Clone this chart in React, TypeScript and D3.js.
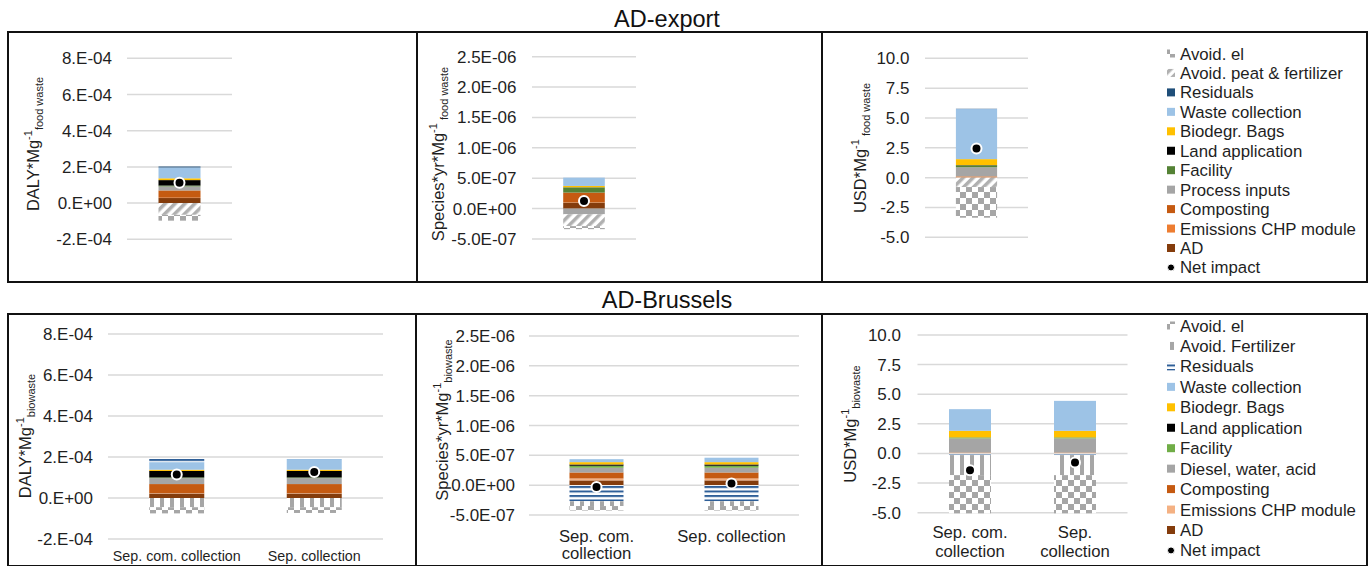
import React from "react";
import * as d3 from "d3";

const FONT = "'Liberation Sans', Arial, Helvetica, sans-serif";

// ---------- series ----------
const topSeries = ["AD", "Emissions CHP module", "Composting", "Process inputs", "Facility", "Land application", "Biodegr. Bags", "Waste collection", "Residuals", "Avoid. peat & fertilizer", "Avoid. el"];
const bottomSeries = ["AD", "Emissions CHP module", "Composting", "Diesel, water, acid", "Facility", "Land application", "Biodegr. Bags", "Waste collection", "Residuals", "Avoid. Fertilizer", "Avoid. el"];
const topFills = ["#843c0c", "#ed7d31", "#c55a11", "#a5a5a5", "#548235", "#000000", "#ffc000", "#9dc3e6", "#1f4e79", "url(#diag)", "url(#checker)"];
const bottomFills = ["#843c0c", "#f4b183", "#c55a11", "#a5a5a5", "#70ad47", "#000000", "#ffc000", "#9dc3e6", "url(#hstripe)", "url(#vstripe)", "url(#checker)"];

// ---------- categories ----------
const topCategories = [""];
const bottomCategories = ["Sep. com. collection", "Sep. collection"];

// ---------- tick values ----------
const dalyTicks = [-2e-4, 0, 2e-4, 4e-4, 6e-4, 8e-4];
const speciesTicks = [-5e-7, 0, 5e-7, 1e-6, 1.5e-6, 2e-6, 2.5e-6];
const usdTicks = [-5, -2.5, 0, 2.5, 5, 7.5, 10];

// ---------- values (one entry per series, per category) ----------
// AD-export
const exportDaly = [[0.28e-4], [0.02e-4], [0.40e-4], [0.22e-4], [0.05e-4], [0.30e-4], [0.10e-4], [0.60e-4], [0.05e-4], [-0.65e-4], [-0.32e-4]];
const exportDalyNet = [1.12e-4];
const exportSpecies = [[0.99e-7], [0.05e-7], [1.6e-7], [-0.93e-7], [0.85e-7], [0.02e-7], [0.22e-7], [1.37e-7], [0], [-1.95e-7], [-0.5e-7]];
const exportSpeciesNet = [1.25e-7];
const exportUsd = [[0.02], [0.05], [0.04], [0.76], [0.16], [0.02], [0.5], [4.2], [0.02], [-0.79], [-2.57]];
const exportUsdNet = [2.45];

// AD-Brussels
const brusselsDaly = [[0.22e-4, 0.22e-4], [0.02e-4, 0.02e-4], [0.44e-4, 0.44e-4], [0.29e-4, 0.29e-4], [0.03e-4, 0.03e-4], [0.32e-4, 0.32e-4], [0.06e-4, 0.06e-4], [0.37e-4, 0.52e-4], [0.18e-4, 0.05e-4], [-0.45e-4, -0.45e-4], [-0.3e-4, -0.28e-4]];
const brusselsDalyNet = [1.15e-4, 1.27e-4];
const brusselsSpecies = [[0.8e-7, 0.8e-7], [0.32e-7, 0.32e-7], [1.01e-7, 1.01e-7], [0.79e-7, 0.79e-7], [0.33e-7, 0.33e-7], [0.22e-7, 0.22e-7], [0.39e-7, 0.39e-7], [0.5e-7, 0.74e-7], [-2.7e-7, -2.7e-7], [-0.8e-7, -0.8e-7], [-0.75e-7, -0.75e-7]];
const brusselsSpeciesNet = [-0.3e-7, 0.3e-7];
const brusselsUsd = [[0.02, 0.02], [0.03, 0.03], [0.03, 0.03], [1.19, 1.19], [0.08, 0.08], [0.01, 0.01], [0.55, 0.55], [1.83, 2.53], [-0.14, -0.14], [-1.69, -1.69], [-3.22, -3.22]];
const brusselsUsdNet = [-1.41, -0.76];

function fmtE(dec: number) {
  return (v: number) => {
    if (Math.abs(v) < 1e-20) return (dec ? "0." + "0".repeat(dec) : "0.") + "E+00";
    const s = v.toExponential(dec);
    const [m, e] = s.split("e");
    const mant = dec === 0 ? m + "." : m;
    const ei = parseInt(e, 10);
    return mant + "E" + (ei < 0 ? "-" : "+") + String(Math.abs(ei)).padStart(2, "0");
  };
}
const fmtF = (v: number) => v.toFixed(1);

let _ctx: CanvasRenderingContext2D | null = null;
function measure(t: string, size: number) {
  if (!_ctx) _ctx = document.createElement("canvas").getContext("2d");
  if (!_ctx) return t.length * size * 0.5;
  _ctx.font = `${size}px ${FONT}`;
  return _ctx.measureText(t).width;
}
function wrap(t: string, size: number, maxW: number) {
  const words = t.split(" ");
  const lines: string[] = [];
  let cur = "";
  for (const w of words) {
    const cand = cur ? cur + " " + w : w;
    if (cur && measure(cand, size) > maxW) {
      lines.push(cur);
      cur = w;
    } else cur = cand;
  }
  if (cur) lines.push(cur);
  return lines;
}

type Cfg = {
  box: number[];
  gridX: number[];
  yPix: number[];
  domain: number[];
  ticks: number[];
  fmt: (v: number) => string;
  tickRight: number;
  categories: string[];
  series: string[];
  fills: string[];
  values: number[][];
  net: number[];
  label: { x: number; y: number; main: string; sub: string; space: boolean };
  catFont?: number;
  catY?: number;
  catWrap?: number;
  catLH?: number;
};

const TXT = "#1f1f1f";

function Panel({ c }: { c: Cfg }) {
  const y = d3.scaleLinear().domain(c.domain).range(c.yPix);
  const x = d3.scaleBand<string>().domain(c.categories).range(c.gridX as [number, number]).paddingInner(0.6).paddingOuter(0.3);
  const rows = c.categories.map((cat, i) => {
    const r: any = { cat };
    c.series.forEach((s, j) => (r[s] = c.values[j][i]));
    return r;
  });
  const stacked = d3.stack<any>().keys(c.series).offset(d3.stackOffsetDiverging)(rows);
  const bw = x.bandwidth();
  return (
    <g>
      <rect x={c.box[0]} y={c.box[1]} width={c.box[2]} height={c.box[3]} fill="none" stroke="#111" strokeWidth={2} />
      {c.ticks.map((t) => (
        <g key={t}>
          <line x1={c.gridX[0]} x2={c.gridX[1]} y1={y(t)} y2={y(t)} stroke="#d9d9d9" strokeWidth={1.5} />
          <text x={c.tickRight} y={y(t) + 6} textAnchor="end" fontSize={17} fill={TXT}>{c.fmt(t)}</text>
        </g>
      ))}
      {stacked.map((layer, j) =>
        layer.map((d, i) => {
          const a = d[0], b = d[1];
          if (a === b || isNaN(a) || isNaN(b)) return null;
          const y0 = y(Math.max(a, b)), y1 = y(Math.min(a, b));
          return <rect key={`${j}-${i}`} x={x(c.categories[i])} y={y0} width={bw} height={y1 - y0} fill={c.fills[j]} />;
        })
      )}
      {c.net.map((v, i) => (
        <circle key={i} cx={(x(c.categories[i]) as number) + bw / 2} cy={y(v)} r={5} fill="#000" stroke="#fff" strokeWidth={2} />
      ))}
      <text transform={`translate(${c.label.x},${c.label.y}) rotate(-90)`} textAnchor="middle" fontSize={16.5} fill={TXT}>
        <tspan>{c.label.main}</tspan>
        <tspan fontSize={11} dy={-7}>-1</tspan>
        <tspan fontSize={11} dy={11}>{(c.label.space ? " " : "") + c.label.sub}</tspan>
      </text>
      {c.catY !== undefined &&
        c.categories.map((cat) => {
          const fs = c.catFont || 16.5;
          const lines = wrap(cat, fs, c.catWrap || 10000);
          const cx = (x(cat) as number) + bw / 2;
          return (
            <text key={cat} x={cx} y={c.catY} textAnchor="middle" fontSize={fs} fill={TXT}>
              {lines.map((l, k) => (
                <tspan key={k} x={cx} dy={k === 0 ? 0 : c.catLH || 18}>{l}</tspan>
              ))}
            </text>
          );
        })}
    </g>
  );
}

function Legend({ series, fills, x, y0, step }: { series: string[]; fills: string[]; x: number; y0: number; step: number }) {
  const items = series.map((s, i) => ({ s, f: fills[i] })).reverse();
  return (
    <g>
      {items.map((it, k) => (
        <g key={it.s}>
          <rect x={x} y={y0 + k * step - 4} width={8} height={8} fill={it.f} />
          <text x={x + 13} y={y0 + k * step + 6} fontSize={16.8} fill={TXT}>{it.s}</text>
        </g>
      ))}
      <circle cx={x + 4} cy={y0 + items.length * step} r={3.5} fill="#000" stroke="#fff" strokeWidth={1} />
      <text x={x + 13} y={y0 + items.length * step + 6} fontSize={16.8} fill={TXT}>Net impact</text>
    </g>
  );
}

const panels: Cfg[] = [
  { box: [8, 32, 409, 250], gridX: [127, 232], yPix: [239.3, 58.3], domain: [-2e-4, 8e-4], ticks: dalyTicks, fmt: fmtE(0), tickRight: 112, categories: topCategories, series: topSeries, fills: topFills, values: exportDaly, net: exportDalyNet, label: { x: 39, y: 144, main: "DALY*Mg", sub: "food waste", space: false } },
  { box: [417, 32, 405, 250], gridX: [532, 636], yPix: [239, 56.7], domain: [-5e-7, 2.5e-6], ticks: speciesTicks, fmt: fmtE(1), tickRight: 516.5, categories: topCategories, series: topSeries, fills: topFills, values: exportSpecies, net: exportSpeciesNet, label: { x: 443.5, y: 154, main: "Species*yr*Mg", sub: "food waste", space: true } },
  { box: [822, 32, 545, 250], gridX: [925, 1028], yPix: [237.3, 58.3], domain: [-5, 10], ticks: usdTicks, fmt: fmtF, tickRight: 909.5, categories: topCategories, series: topSeries, fills: topFills, values: exportUsd, net: exportUsdNet, label: { x: 866, y: 148, main: "USD*Mg", sub: "food waste", space: true } },
  { box: [8, 314, 408, 252], gridX: [108, 383], yPix: [539, 334], domain: [-2e-4, 8e-4], ticks: dalyTicks, fmt: fmtE(0), tickRight: 93, categories: bottomCategories, series: bottomSeries, fills: bottomFills, values: brusselsDaly, net: brusselsDalyNet, label: { x: 31, y: 436, main: "DALY*Mg", sub: "biowaste", space: false }, catFont: 14.3, catY: 561, catWrap: 10000 },
  { box: [416, 314, 406, 252], gridX: [529, 799], yPix: [515, 336], domain: [-5e-7, 2.5e-6], ticks: speciesTicks, fmt: fmtE(1), tickRight: 515, categories: bottomCategories, series: bottomSeries, fills: bottomFills, values: brusselsSpecies, net: brusselsSpeciesNet, label: { x: 448, y: 420, main: "Species*yr*Mg", sub: "biowaste", space: false }, catFont: 16.7, catY: 541.7, catWrap: 120, catLH: 17.5 },
  { box: [822, 314, 545, 252], gridX: [917.5, 1127.5], yPix: [512.7, 335], domain: [-5, 10], ticks: usdTicks, fmt: fmtF, tickRight: 901, categories: bottomCategories, series: bottomSeries, fills: bottomFills, values: brusselsUsd, net: brusselsUsdNet, label: { x: 856, y: 424, main: "USD*Mg", sub: "biowaste", space: false }, catFont: 16.7, catY: 538, catWrap: 80, catLH: 18.7 },
];

export default function App() {
  return (
    <svg width={1370} height={566} style={{ position: "absolute", left: 0, top: 0, background: "#fff" }} fontFamily={FONT}>
      <defs>
        <pattern id="checker" patternUnits="userSpaceOnUse" width={12} height={12}>
          <rect width={12} height={12} fill="#fff" />
          <rect width={6} height={6} fill="#a6a6a6" />
          <rect x={6} y={6} width={6} height={6} fill="#a6a6a6" />
        </pattern>
        <pattern id="diag" patternUnits="userSpaceOnUse" width={7} height={7} patternTransform="rotate(45)">
          <rect width={7} height={7} fill="#fff" />
          <rect width={3.5} height={7} fill="#b0b0b0" />
        </pattern>
        <pattern id="vstripe" patternUnits="userSpaceOnUse" width={10} height={10}>
          <rect width={10} height={10} fill="#fff" />
          <rect width={4} height={10} fill="#a6a6a6" />
        </pattern>
        <pattern id="hstripe" patternUnits="userSpaceOnUse" width={10} height={4.5}>
          <rect width={10} height={4.5} fill="#fff" />
          <rect width={10} height={2} fill="#2f5f98" />
        </pattern>
      </defs>
      <rect width={1370} height={566} fill="#fff" />
      <text x={667} y={27.3} textAnchor="middle" fontSize={23.5} fill="#111">AD-export</text>
      <text x={667} y={308.3} textAnchor="middle" fontSize={23.5} fill="#111">AD-Brussels</text>
      {panels.map((p, i) => (
        <Panel key={i} c={p} />
      ))}
      <Legend series={topSeries} fills={topFills} x={1167} y0={53.5} step={19.45} />
      <Legend series={bottomSeries} fills={bottomFills} x={1167} y0={325.5} step={20.45} />
    </svg>
  );
}
